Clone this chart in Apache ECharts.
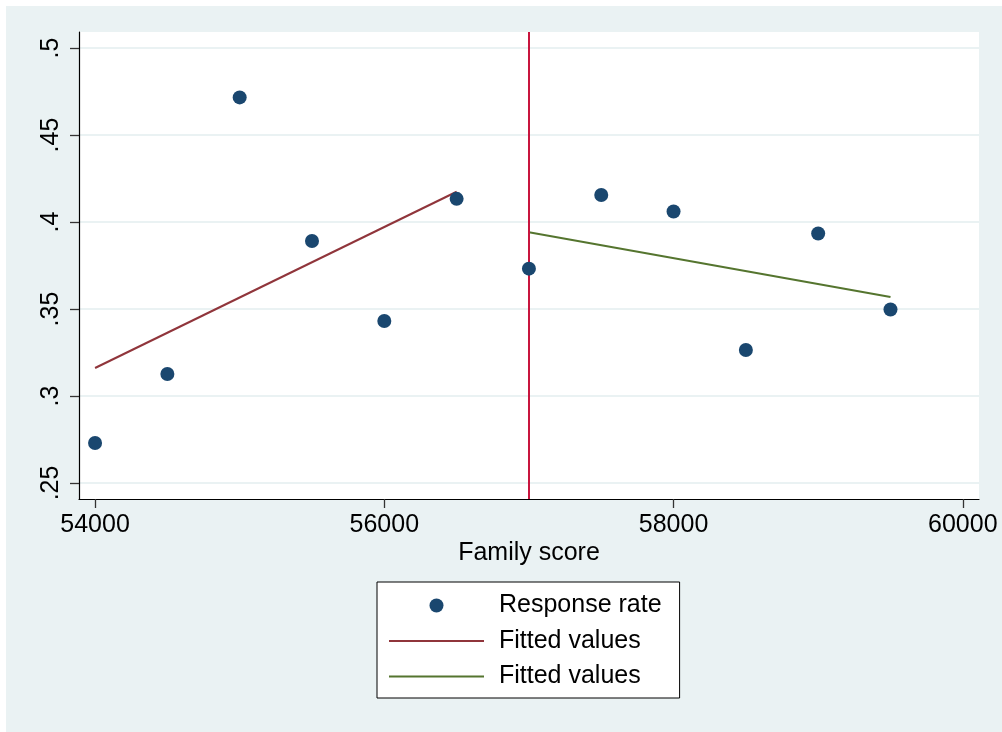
<!DOCTYPE html>
<html>
<head>
<meta charset="utf-8">
<script src="https://cdn.jsdelivr.net/npm/echarts@6/dist/echarts.min.js"></script>
<style>
  html, body { margin: 0; padding: 0; background: #ffffff; }
  #chart { width: 1002px; height: 732px; }
</style>
</head>
<body>
<div id="chart"></div>
<script>
// Family score (x) vs response rate (y)
const familyScore = [54000, 54500, 55000, 55500, 56000, 56500, 57000, 57500, 58000, 58500, 59000, 59500];
const responseRate = [0.273, 0.3126, 0.4716, 0.3891, 0.3431, 0.4133, 0.3732, 0.4155, 0.4060, 0.3264, 0.3934, 0.3497];

// Fitted line endpoints below and above the cutoff
const fitLeftX = [54000, 56500];
const fitLeftY = [0.3161, 0.4174];
const fitRightX = [57000, 59500];
const fitRightY = [0.3941, 0.3569];

// Cutoff marker
const cutoff = 57000;

// Axis ticks and labels
const xTicks = [54000, 56000, 58000, 60000];
const xTickLabels = ['54000', '56000', '58000', '60000'];
const yTicks = [0.25, 0.3, 0.35, 0.4, 0.45, 0.5];
const yTickLabels = ['.25', '.3', '.35', '.4', '.45', '.5'];

const legendLabels = { resp: 'Response rate', fitL: 'Fitted values', fitR: 'Fitted values' };

const FONT = '"Liberation Sans", Arial, Helvetica, sans-serif';

function pairs(xs, ys) { return xs.map((x, i) => [x, ys[i]]); }
function nearestLabel(v, ticks, labels) {
  let best = 0;
  for (let i = 1; i < ticks.length; i++) {
    if (Math.abs(ticks[i] - v) < Math.abs(ticks[best] - v)) best = i;
  }
  return labels[best];
}

const chart = echarts.init(document.getElementById('chart'), null, { renderer: 'canvas' });

chart.setOption({
  animation: false,
  backgroundColor: '#ffffff',
  textStyle: { fontFamily: FONT },
  graphic: [{
    type: 'rect', left: 6, top: 6, z: -10, silent: true,
    shape: { width: 996, height: 726 },
    style: { fill: '#eaf2f3' }
  }],
  grid: {
    left: 79, top: 32, width: 900, height: 467,
    show: true, backgroundColor: '#ffffff', borderWidth: 0
  },
  xAxis: {
    type: 'value',
    min: 53889, max: 60112,
    name: 'Family score',
    nameLocation: 'middle',
    nameGap: 42,
    nameMoveOverlap: false,
    nameTextStyle: { fontSize: 25, color: '#000', fontFamily: FONT },
    axisLine: { show: true, onZero: false, lineStyle: { color: '#000', width: 1.2 } },
    axisTick: { show: true, length: 9, customValues: xTicks, lineStyle: { color: '#333', width: 1.3 } },
    axisLabel: {
      customValues: xTicks, margin: 14, fontSize: 25, color: '#000', fontFamily: FONT,
      formatter: v => nearestLabel(v, xTicks, xTickLabels)
    },
    splitLine: { show: false }
  },
  yAxis: {
    type: 'value',
    min: 0.2408, max: 0.5092,
    axisLine: { show: true, onZero: false, lineStyle: { color: '#000', width: 1.2 } },
    axisTick: { show: true, length: 9, customValues: yTicks, lineStyle: { color: '#333', width: 1.3 } },
    axisLabel: {
      customValues: yTicks, rotate: 90, margin: 15, fontSize: 25, color: '#000', fontFamily: FONT,
      formatter: v => nearestLabel(v, yTicks, yTickLabels)
    },
    splitLine: { show: true, lineStyle: { color: '#eaf2f3', width: 2 } }
  },
  legend: {
    orient: 'vertical',
    left: 377, top: 582,
    padding: [11, 18, 9, 11],
    itemWidth: 95, itemHeight: 14, itemGap: 10.5,
    backgroundColor: '#ffffff',
    borderColor: '#000', borderWidth: 1, borderRadius: 0,
    selectedMode: false,
    textStyle: { fontSize: 25, color: '#000', fontFamily: FONT, padding: [0, 0, 0, 10] },
    formatter: n => legendLabels[n],
    data: [
      { name: 'resp', icon: 'circle' },
      { name: 'fitL', itemStyle: { opacity: 0 } },
      { name: 'fitR', itemStyle: { opacity: 0 } }
    ]
  },
  series: [
    {
      name: 'fitL', type: 'line', z: 2,
      data: pairs(fitLeftX, fitLeftY),
      symbol: 'none', lineStyle: { color: '#90353b', width: 2 },
      itemStyle: { color: '#90353b' },
      markLine: {
        silent: true, symbol: ['none', 'none'],
        label: { show: false },
        lineStyle: { color: '#c8153e', width: 2, type: 'solid' },
        data: [{ xAxis: cutoff }]
      }
    },
    {
      name: 'fitR', type: 'line', z: 2,
      data: pairs(fitRightX, fitRightY),
      symbol: 'none', lineStyle: { color: '#55752f', width: 2 },
      itemStyle: { color: '#55752f' }
    },
    {
      name: 'resp', type: 'scatter', z: 5,
      data: pairs(familyScore, responseRate),
      symbol: 'circle', symbolSize: 14,
      itemStyle: { color: '#1a476f', opacity: 1 }
    }
  ]
});
</script>
</body>
</html>
